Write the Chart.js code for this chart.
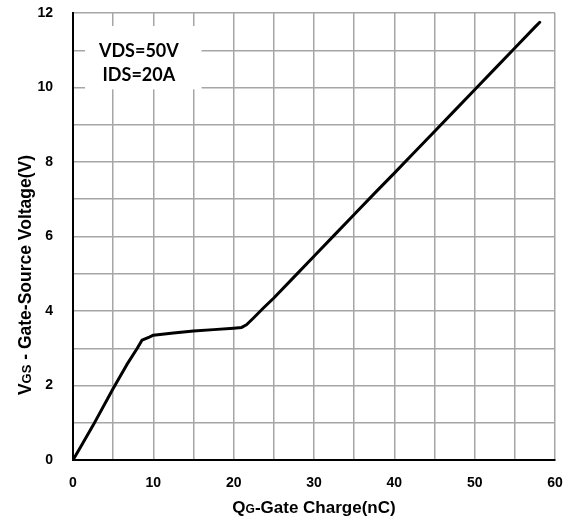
<!DOCTYPE html>
<html>
<head>
<meta charset="utf-8">
<script src="https://cdn.jsdelivr.net/npm/chart.js@4.4.1/dist/chart.umd.min.js"></script>
<style>
  body { margin: 0; background: #fff; }
  canvas { display: block; }
</style>
</head>
<body>
<canvas id="gate-chart" width="571" height="520"></canvas>
<script>
// Curva de carga de puerta
const qg  = [0, 1, 2.5, 5, 6.7, 8.0, 8.6, 9.5, 10, 12.5, 15, 17.5, 20, 21, 21.6, 22.5, 23.7, 25, 27.5, 30, 32.5, 35, 37.5, 40, 42.5, 45, 47.5, 50, 52.5, 55, 57.5, 58.1];
const vgs = [0, 0.37, 0.93, 1.92, 2.56, 3.0, 3.22, 3.3, 3.35, 3.41, 3.46, 3.5, 3.54, 3.56, 3.63, 3.82, 4.08, 4.35, 4.91, 5.47, 6.03, 6.59, 7.15, 7.7, 8.26, 8.82, 9.38, 9.94, 10.5, 11.06, 11.62, 11.75];

const xTicks = [0, 10, 20, 30, 40, 50, 60];
const yTicks = [0, 2, 4, 6, 8, 10, 12];
const noteLines = ['VDS=50V', 'IDS=20A'];

const FONT = "'Liberation Sans', Arial, sans-serif";
const ctx = document.getElementById('gate-chart').getContext('2d');

// Dibuja texto con partes de distinto tamaño (subindices)
function drawParts(c, parts, x, y) {
  let total = 0;
  parts.forEach(p => { c.font = `bold ${p.size}px ${FONT}`; total += c.measureText(p.text).width; });
  let cx = x - total / 2;
  parts.forEach(p => {
    c.font = `bold ${p.size}px ${FONT}`;
    c.fillText(p.text, cx, y);
    cx += c.measureText(p.text).width;
  });
}

const extras = {
  id: 'extras',
  beforeDatasetsDraw(chart) {
    const { ctx: c, scales: { x, y } } = chart;
    // caja blanca de la nota
    const l = x.getPixelForValue(1.5), r = x.getPixelForValue(16);
    const t = y.getPixelForValue(11.65), b = y.getPixelForValue(9.95);
    c.save();
    c.fillStyle = '#fff';
    c.fillRect(l, t, r - l, b - t);
    c.fillStyle = '#000';
    c.font = "bold 18px Lato, sans-serif";
    c.textAlign = 'center';
    c.textBaseline = 'middle';
    const cx = x.getPixelForValue(8.2);
    c.fillText(noteLines[0], cx, y.getPixelForValue(10.98));
    c.fillText(noteLines[1], cx, y.getPixelForValue(10.32));
    c.restore();
  },
  afterDraw(chart) {
    const { ctx: c, chartArea: a } = chart;
    c.save();
    c.fillStyle = '#000';
    c.textBaseline = 'alphabetic';
    c.textAlign = 'left';
    drawParts(c, [
      { text: 'Q', size: 17 }, { text: 'G', size: 12 }, { text: '-Gate Charge(nC)', size: 17 }
    ], (a.left + a.right) / 2, 513);
    c.translate(31, 275);
    c.rotate(-Math.PI / 2);
    drawParts(c, [
      { text: 'V', size: 17.5 }, { text: 'GS', size: 13 }, { text: ' - Gate-Source Voltage(V)', size: 17.5 }
    ], 0, 0);
    c.restore();
  }
};

new Chart(ctx, {
  type: 'line',
  data: {
    datasets: [{
      data: qg.map((q, i) => ({ x: q, y: vgs[i] })),
      borderColor: '#000',
      borderWidth: 3,
      pointRadius: 0,
      tension: 0,
      borderJoinStyle: 'round',
      borderCapStyle: 'round'
    }]
  },
  options: {
    responsive: false,
    animation: false,
    layout: { padding: { left: 0, right: 16, top: 13, bottom: 0 } },
    plugins: { legend: { display: false }, tooltip: { enabled: false } },
    scales: {
      x: {
        type: 'linear', min: 0, max: 60,
        afterFit: s => { s.height = 60; },
        grid: { color: '#a6a6a6', lineWidth: 1.5, tickLength: 15, tickColor: 'rgba(0,0,0,0)' },
        border: { color: '#000', width: 2 },
        ticks: {
          stepSize: 5, padding: 0, color: '#000',
          font: { family: FONT, size: 14, weight: 'bold' },
          maxRotation: 0,
          callback: v => xTicks.includes(v) ? String(v) : ''
        }
      },
      y: {
        type: 'linear', min: 0, max: 12,
        afterFit: s => { s.width = 73; },
        grid: { color: '#a6a6a6', lineWidth: 1.5, tickLength: 20, tickColor: 'rgba(0,0,0,0)' },
        border: { color: '#000', width: 2 },
        ticks: {
          stepSize: 1, padding: 0, color: '#000',
          font: { family: FONT, size: 14, weight: 'bold' },
          callback: v => yTicks.includes(v) ? String(v) : ''
        }
      }
    }
  },
  plugins: [extras]
});
</script>
</body>
</html>
